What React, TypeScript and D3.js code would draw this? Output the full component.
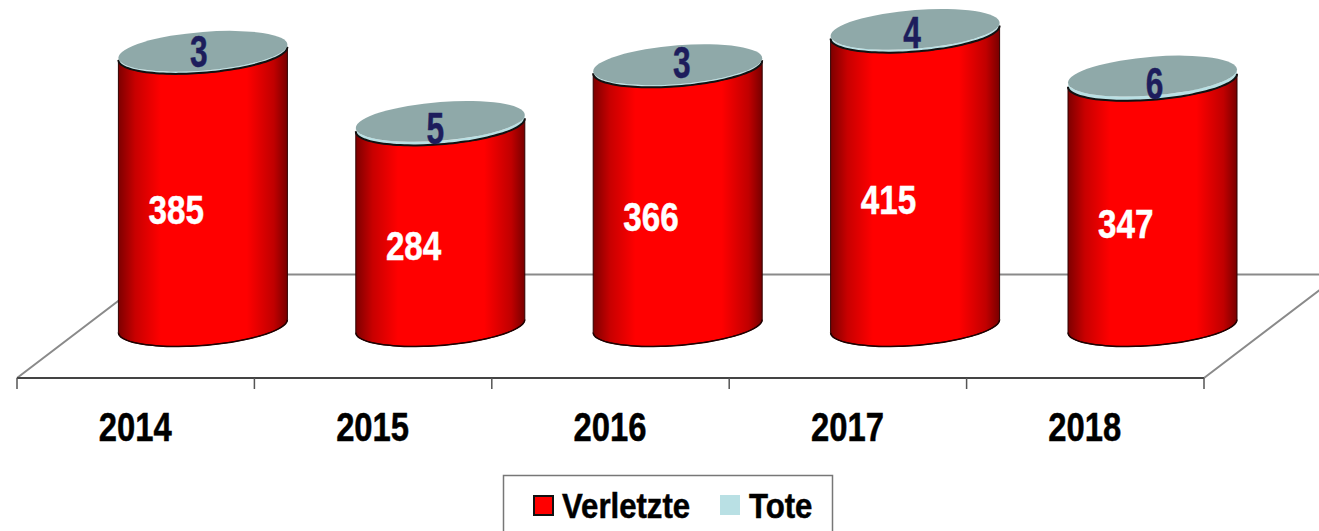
import React from 'react';
import * as d3 from 'd3';

const years = ['2014', '2015', '2016', '2017', '2018'];
const verletzte = [385, 284, 366, 415, 347];
const tote = [3, 5, 3, 4, 6];
const legendLabels = ['Verletzte', 'Tote'];

// small hand nudges for the Tote labels, they don't sit quite centred in the original
const toteNudgeX = [-4, -5, 4, -3, 2];
const toteNudgeY = [0, 7, -3, 3, 7];

const width = 1319;
const height = 531;
// no narrow face installed, so Liberation Sans gets squeezed horizontally below
const font = '"Liberation Sans", Arial, sans-serif';

const floorFront = 378;
const depthX = 136;
const depthY = 103.5;
const baseY = 326;
const barOffset = 67.2;
const rx = 84.5;
const tilt = -6.5;
const ry = 19.4;

const xScale = d3.scaleBand<string>().domain(years).range([17, 1204]);
const yScale = d3.scaleLinear().domain([0, 400]).range([baseY, baseY - 283.2]);

const line = d3.line<[number, number]>().curve(d3.curveCatmullRom);
const angles = d3.range(0, 1.0001, 1 / 32).map((k) => k * Math.PI);

// point on the tilted ellipse, t=0 is the right edge, t=PI the left edge
const rim = (cx: number, cy: number, t: number): [number, number] => [
  cx + rx * Math.cos(t),
  cy + tilt * Math.cos(t) + ry * Math.sin(t),
];

// side of a cylinder between two center heights
const sidePath = (cx: number, yTop: number, yBottom: number) => {
  const lower = angles.map((t) => rim(cx, yBottom, t));
  const upper = angles.map((t) => rim(cx, yTop, t)).reverse();
  return `${line(lower)}L${line(upper)!.slice(1)}Z`;
};

const rimPath = (cx: number, cy: number) => line(angles.map((t) => rim(cx, cy, t)))!;

type LabelProps = {
  x: number;
  y: number;
  size: number;
  squeeze: number;
  fill: string;
  anchor?: string;
  children: React.ReactNode;
};

const Label = ({ x, y, size, squeeze, fill, anchor = 'middle', children }: LabelProps) => (
  <text
    transform={`translate(${x},${y}) scale(${squeeze},1)`}
    dy="0.36em"
    textAnchor={anchor}
    fontSize={size}
    fill={fill}
    stroke={fill}
    strokeWidth={0.5}
  >
    {children}
  </text>
);

export default function App() {
  const band = xScale.bandwidth();
  const ticks = [...years.map((y) => xScale(y)!), 1204];

  return (
    <svg
      width={width}
      height={height}
      viewBox={`0 0 ${width} ${height}`}
      style={{ position: 'absolute', left: 0, top: 0, background: '#fff' }}
      fontFamily={font}
      fontWeight="bold"
    >
      <defs>
        <linearGradient id="redSide" x1="0" x2="1" y1="0" y2="0">
          <stop offset="0" stopColor="#7d0000" />
          <stop offset="0.1" stopColor="#c80000" />
          <stop offset="0.25" stopColor="#ff0000" />
          <stop offset="0.76" stopColor="#ff0000" />
          <stop offset="0.92" stopColor="#c00000" />
          <stop offset="1" stopColor="#780000" />
        </linearGradient>
      </defs>

      {/* floor */}
      <g fill="none" stroke="#8a8a8a" strokeWidth={2}>
        <path d={`M17,${floorFront}L${17 + depthX},${floorFront - depthY}L${1204 + depthX},${floorFront - depthY}L1204,${floorFront}`} />
      </g>
      <line x1={17} x2={1204} y1={floorFront} y2={floorFront} stroke="#444" strokeWidth={2} />
      {ticks.map((t) => (
        <line key={t} x1={t} x2={t} y1={floorFront} y2={floorFront + 11} stroke="#555" strokeWidth={1.5} />
      ))}

      {/* cylinders */}
      {years.map((year, i) => {
        const cx = xScale(year)! + band / 2 + barOffset;
        const yRed = yScale(verletzte[i]);
        const yTote = yScale(verletzte[i] + tote[i]);
        return (
          <g key={year}>
            <path d={sidePath(cx, yRed, baseY)} fill="url(#redSide)" stroke="#300000" strokeWidth={1} />
            <path d={rimPath(cx, baseY)} fill="none" stroke="#200000" strokeWidth={1.5} />
            <path d={sidePath(cx, yTote, yRed)} fill="#b9e0e4" />
            <path d={rimPath(cx, yRed)} fill="none" stroke="#111" strokeWidth={2} />
            <ellipse
              cx={0}
              cy={0}
              rx={1}
              ry={1}
              transform={`matrix(${rx},${tilt},0,${ry},${cx},${yTote})`}
              fill="#8fa9a9"
            />
            <Label x={xScale(year)! + band / 2 + 40.5} y={yScale(verletzte[i] / 2) + 20} size={41} squeeze={0.81} fill="#fff">
              {verletzte[i]}
            </Label>
            <Label x={cx + toteNudgeX[i]} y={yTote + toteNudgeY[i]} size={44} squeeze={0.72} fill="#1d1d5c">
              {tote[i]}
            </Label>
            <Label x={xScale(year)! + band / 2 - 0.5} y={426.5} size={41} squeeze={0.8} fill="#000">
              {year}
            </Label>
          </g>
        );
      })}

      {/* legend, runs off the bottom of the picture */}
      <rect x={503.5} y={475.5} width={329} height={70} fill="#fff" stroke="#777" strokeWidth={1.5} />
      <rect x={534} y={496} width={19} height={19} fill="#ff0000" stroke="#111" strokeWidth={2} />
      <Label x={562} y={505} size={35} squeeze={0.89} fill="#000" anchor="start">
        {legendLabels[0]}
      </Label>
      <rect x={720} y={495} width={20} height={20} fill="#b9e0e4" />
      <Label x={749} y={505} size={35} squeeze={0.89} fill="#000" anchor="start">
        {legendLabels[1]}
      </Label>
    </svg>
  );
}
